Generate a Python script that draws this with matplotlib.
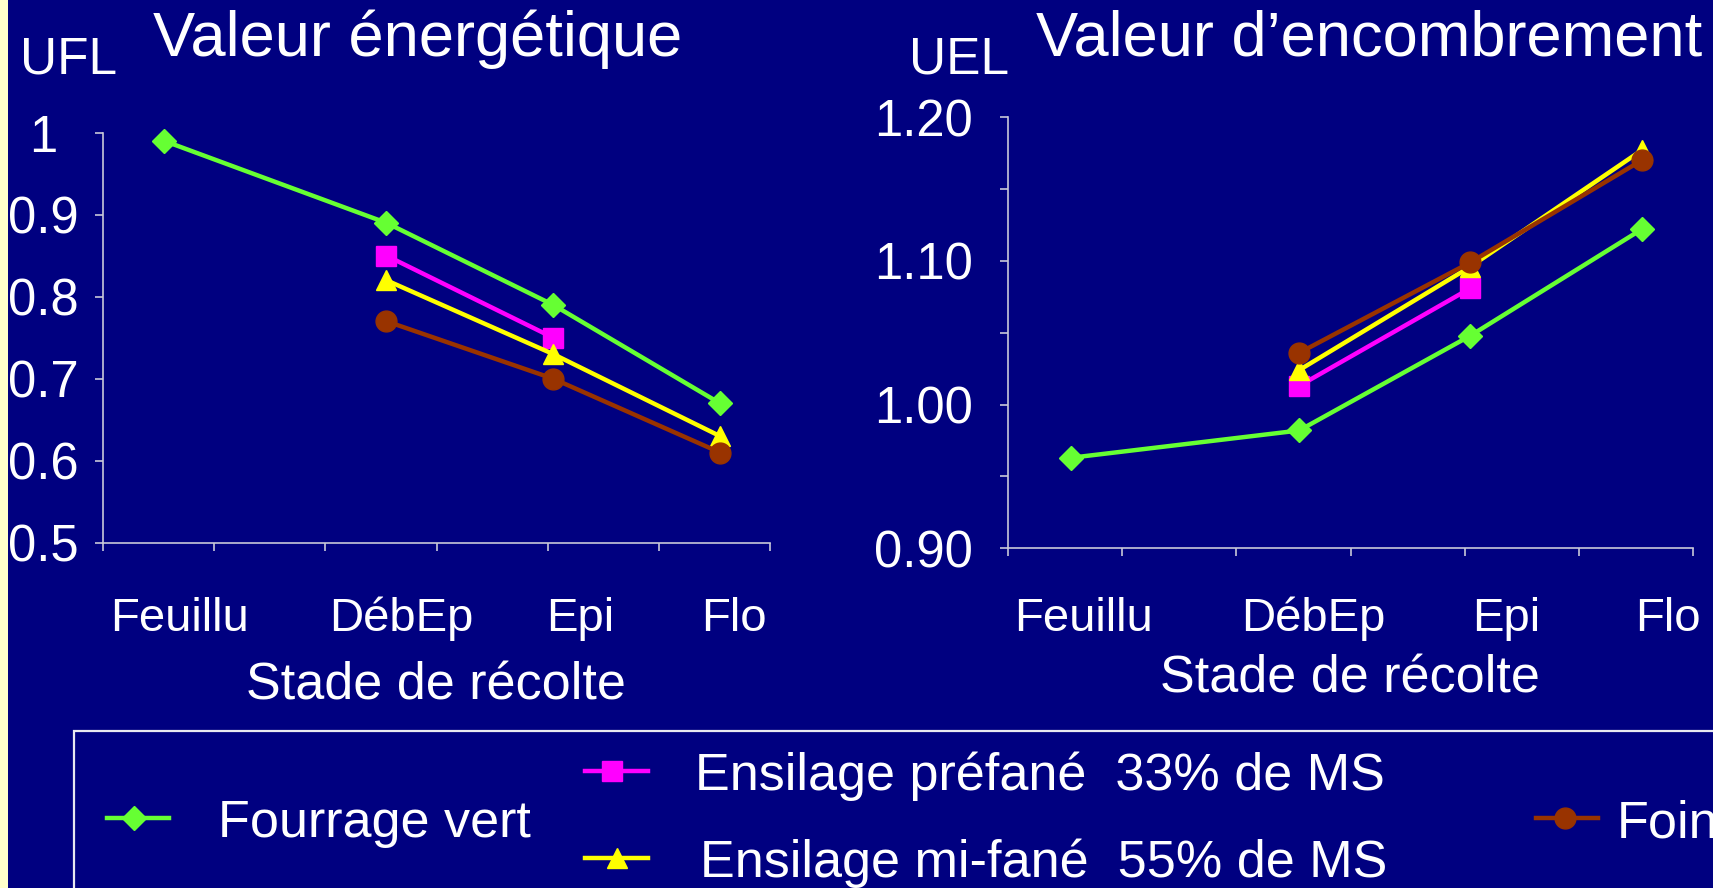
import numpy as np
import matplotlib
matplotlib.use('Agg')
import matplotlib.pyplot as plt
from matplotlib.lines import Line2D
from matplotlib.patches import Rectangle
import matplotlib.transforms as mtransforms

plt.rcParams['font.family'] = ['Liberation Sans', 'DejaVu Sans']

# ---------------- data ----------------
stages = ['Feuillu', 'DébEp', 'Epi', 'Flo']
stage_x = [0.55, 2.55, 4.05, 5.55]

series_names = ['Fourrage vert', 'Ensilage préfané  33% de MS',
                'Ensilage mi-fané  55% de MS', 'Foin']

ufl_vert = [0.99, 0.89, 0.79, 0.67]
ufl_prefane = [np.nan, 0.85, 0.75, np.nan]
ufl_mifane = [np.nan, 0.82, 0.73, 0.63]
ufl_foin = [np.nan, 0.77, 0.70, 0.61]

uel_vert = [0.963, 0.982, 1.048, 1.122]
uel_prefane = [np.nan, 1.013, 1.081, np.nan]
uel_mifane = [np.nan, 1.024, 1.096, 1.177]
uel_foin = [np.nan, 1.036, 1.099, 1.170]

ufl_ticks = [0.5, 0.6, 0.7, 0.8, 0.9, 1.0]
ufl_ticklabels = ['0.5', '0.6', '0.7', '0.8', '0.9', '1']
uel_ticks = [0.90, 1.00, 1.10, 1.20]
uel_ticklabels = ['0.90', '1.00', '1.10', '1.20']

# ---------------- style ----------------
W, H = 1713, 888
BG = '#000080'
AXC = '#c8c8d8'
colors = ['#66ff33', '#ff00ff', '#ffff00', '#993300']
markers = ['D', 's', '^', 'o']
msizes = [12.5, 15, 15, 15]

fig = plt.figure(figsize=(W / 100, H / 100), dpi=100, facecolor=BG)
fig.add_artist(Rectangle((0, 0), 8 / W, 1, transform=fig.transFigure,
                         facecolor='#ffffcc', edgecolor='none'))

ax1 = fig.add_axes([103 / W, 1 - 542.7 / H, 667 / W, 410 / H])
ax2 = fig.add_axes([1008 / W, 1 - 548.3 / H, 685 / W, 431 / H])

for ax in (ax1, ax2):
    ax.set_facecolor(BG)
    for s in ('top', 'right'):
        ax.spines[s].set_visible(False)
    for s in ('left', 'bottom'):
        ax.spines[s].set_color(AXC)
        ax.spines[s].set_linewidth(1.2)
    ax.set_xlim(0, 6)
    ax.set_xticks(range(7))
    ax.set_xticklabels([])
    ax.tick_params(axis='both', which='both', direction='out', length=6,
                   width=1.2, color=AXC, labelcolor='white')

def draw(ax, ys):
    for y, c, m, ms in zip(ys, colors, markers, msizes):
        ax.plot(stage_x, y, color=c, lw=3.2, marker=m, ms=ms,
                markerfacecolor=c, markeredgecolor=c, clip_on=False)

draw(ax1, [ufl_vert, ufl_prefane, ufl_mifane, ufl_foin])
draw(ax2, [uel_vert, uel_prefane, uel_mifane, uel_foin])

ax1.set_ylim(0.5, 1.0)
ax1.set_yticks(ufl_ticks)
ax1.set_yticklabels(ufl_ticklabels, fontsize=36.5)
for lab in ax1.get_yticklabels():
    lab.set_horizontalalignment('center')
ax1.tick_params(axis='y', pad=37)

ax2.set_ylim(0.9, 1.2)
ax2.set_yticks(uel_ticks)
ax2.set_yticks([0.95, 1.05, 1.15], minor=True)
ax2.set_yticklabels(uel_ticklabels, fontsize=36.5)
ax2.tick_params(axis='y', pad=19)

# category labels under each axis
label_pos_left = [0.69, 2.68, 4.29, 5.68]
label_pos_right = [0.66, 2.67, 4.36, 5.78]
for ax, pos in ((ax1, label_pos_left), (ax2, label_pos_right)):
    tr = mtransforms.blended_transform_factory(ax.transData, fig.transFigure)
    for p, s in zip(pos, stages):
        ax.text(p, 1 - 631 / H, s, transform=tr, ha='center', va='baseline',
                fontsize=34, color='white', clip_on=False)

fig.text(436 / W, 1 - 699 / H, 'Stade de récolte', ha='center', va='baseline',
         fontsize=37.5, color='white')
fig.text(1350 / W, 1 - 692 / H, 'Stade de récolte', ha='center', va='baseline',
         fontsize=37.5, color='white')

fig.text(20 / W, 1 - 74 / H, 'UFL', ha='left', va='baseline', fontsize=37, color='white')
fig.text(909 / W, 1 - 74 / H, 'UEL', ha='left', va='baseline', fontsize=37, color='white')
fig.text(153 / W, 1 - 56 / H, 'Valeur énergétique', ha='left', va='baseline',
         fontsize=45.5, color='white')
fig.text(1036 / W, 1 - 56 / H, 'Valeur d\u2019encombrement', ha='left', va='baseline',
         fontsize=45.5, color='white')

# legend box
fig.add_artist(Rectangle((74 / W, -0.1), 1.0, (0.1 + 1 - 731 / H),
                         transform=fig.transFigure, facecolor='none',
                         edgecolor='#e8e8f0', lw=1.6))

leg = [  # (line x0, x1, marker x, y, text x)
    (107, 169, 134, 818, 218),
    (585, 648, 612, 771, 695),
    (585, 648, 617, 858, 700),
    (1536, 1598, 1565, 818, 1617),
]
for (x0, x1, mx, y, tx), c, m, ms, name in zip(leg, colors, markers, msizes, series_names):
    yf = 1 - y / H
    fig.add_artist(Line2D([x0 / W, x1 / W], [yf, yf], transform=fig.transFigure,
                          color=c, lw=3.2))
    fig.add_artist(Line2D([mx / W], [yf], transform=fig.transFigure, color=c,
                          marker=m, ms=ms, markerfacecolor=c, markeredgecolor=c))
    fig.text(tx / W, yf, name, ha='left', va='center_baseline', fontsize=37.5,
             color='white')

fig.savefig('out.png', dpi=100, facecolor=BG)
